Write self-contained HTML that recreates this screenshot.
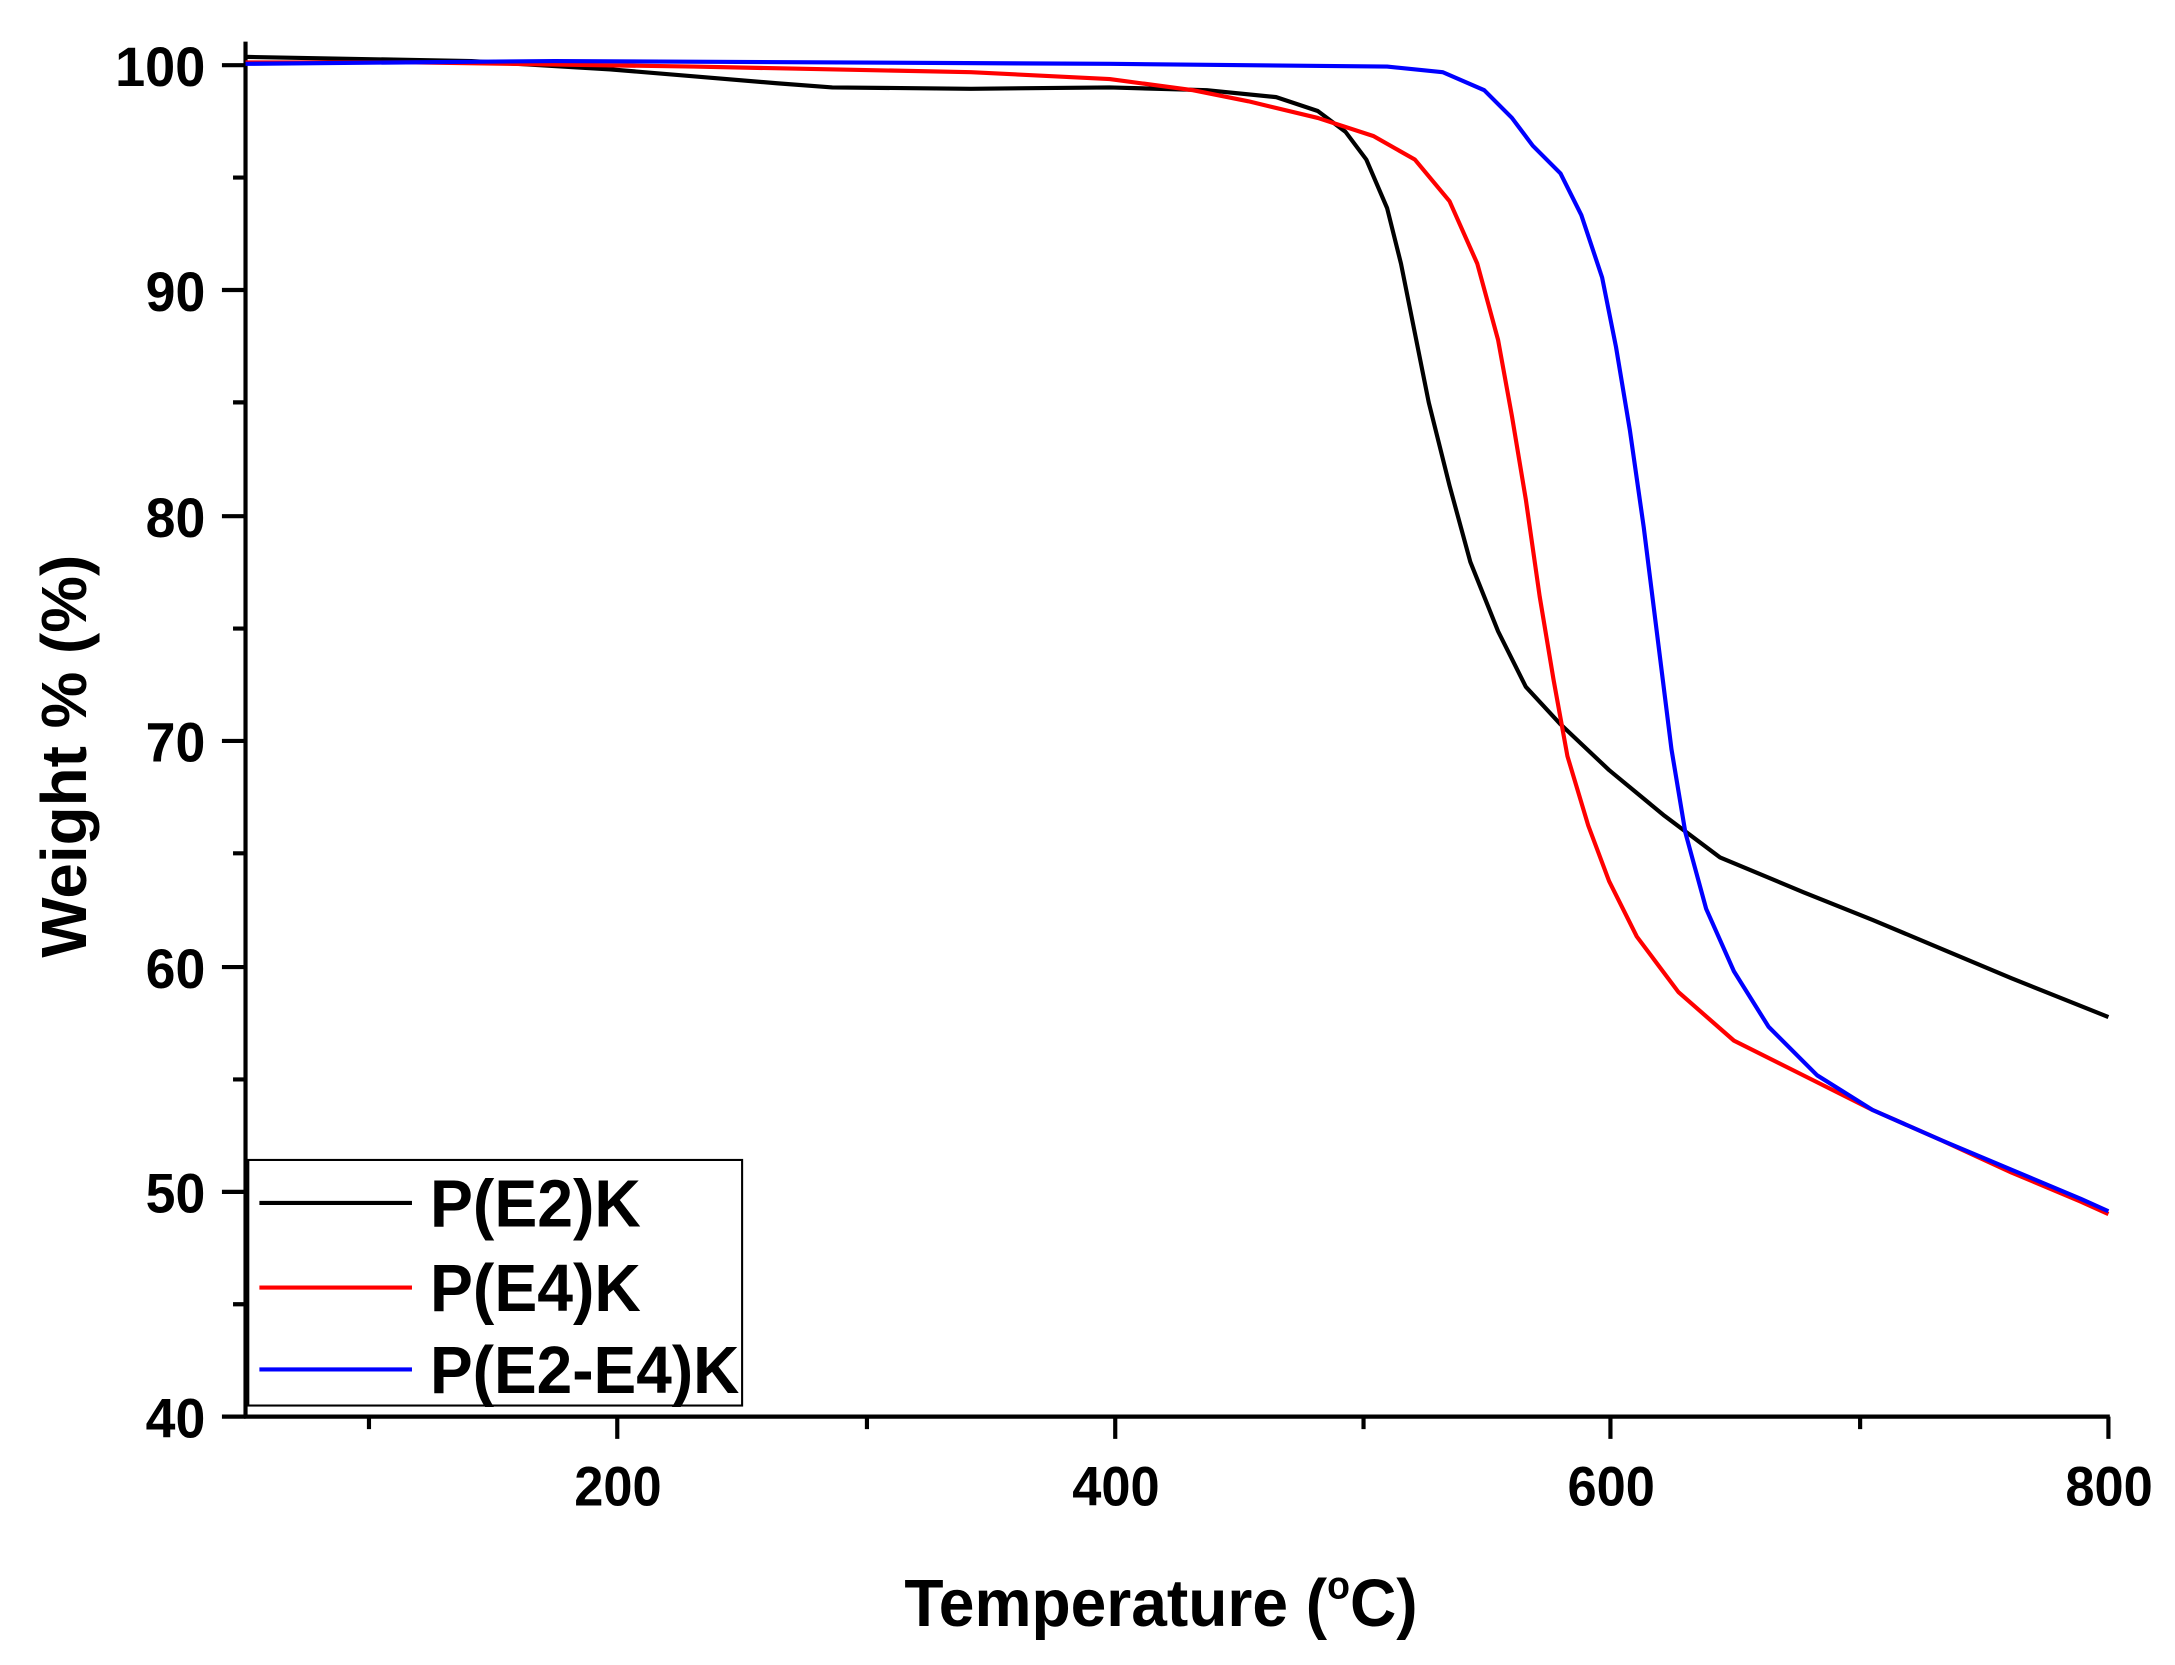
<!DOCTYPE html>
<html><head><meta charset="utf-8"><style>html,body{margin:0;padding:0;background:#fff;}svg{display:block}</style></head>
<body>
<svg width="2175" height="1665" viewBox="0 0 1568 1200" preserveAspectRatio="none" xmlns="http://www.w3.org/2000/svg" font-family="Liberation Sans, sans-serif" font-weight="bold">
<rect width="1568" height="1200" fill="#fff"/>
<g stroke="#000" stroke-width="3" fill="none">
<line x1="177" y1="30" x2="177" y2="1022"/>
<line x1="176" y1="1021" x2="1521" y2="1021"/>
<path d="M160 47H177M160 209H177M160 372H177M160 534H177M160 697H177M160 859H177M160 1021H177"/>
<path d="M168 128H177M168 290H177M168 453H177M168 615H177M168 778H177M168 940H177"/>
<path d="M445 1021V1037M804 1021V1037M1161 1021V1037M1520 1021V1037"/>
<path d="M266 1021V1030M625 1021V1030M983 1021V1030M1341 1021V1030"/>
</g>
<g font-size="40" lengthAdjust="spacingAndGlyphs">
<text x="83" y="62" textLength="65" lengthAdjust="spacingAndGlyphs">100</text>
<text x="105" y="224" textLength="43" lengthAdjust="spacingAndGlyphs">90</text>
<text x="105" y="387" textLength="43" lengthAdjust="spacingAndGlyphs">80</text>
<text x="105" y="549" textLength="43" lengthAdjust="spacingAndGlyphs">70</text>
<text x="105" y="712" textLength="43" lengthAdjust="spacingAndGlyphs">60</text>
<text x="105" y="874" textLength="43" lengthAdjust="spacingAndGlyphs">50</text>
<text x="105" y="1036" textLength="43" lengthAdjust="spacingAndGlyphs">40</text>
<text x="414" y="1085" textLength="63" lengthAdjust="spacingAndGlyphs">200</text>
<text x="773" y="1085" textLength="63" lengthAdjust="spacingAndGlyphs">400</text>
<text x="1130" y="1085" textLength="63" lengthAdjust="spacingAndGlyphs">600</text>
<text x="1489" y="1085" textLength="63" lengthAdjust="spacingAndGlyphs">800</text>
</g>
<text x="652" y="1172" font-size="48" textLength="370" lengthAdjust="spacingAndGlyphs">Temperature (<tspan font-size="28" dy="-20">o</tspan><tspan dy="20">C)</tspan></text>
<text transform="translate(62,545) rotate(-90)" font-size="46" text-anchor="middle">Weight % (%)</text>
<g fill="none" stroke-width="3" stroke-linejoin="round">
<polyline stroke="#000" points="177,41 340,44 440,50 500,55 560,60 600,63 700,64 800,63 870,65 920,70 950,80 970,95 985,115 1000,150 1010,190 1020,240 1030,290 1045,350 1060,405 1080,455 1100,495 1125,522 1160,555 1200,588 1240,618 1300,643 1350,663 1400,684 1450,705 1500,725 1520,733"/>
<polyline stroke="#f00" points="177,45 300,45 500,48 700,52 800,57 860,65 900,73 950,85 990,98 1020,115 1045,145 1065,190 1080,245 1090,300 1100,360 1110,430 1120,490 1130,545 1145,595 1160,635 1180,675 1210,715 1250,750 1300,775 1350,800 1400,822 1450,845 1500,866 1520,875"/>
<polyline stroke="#00f" points="177,46 400,44 800,46 1000,48 1040,52 1070,65 1090,85 1105,105 1125,125 1140,155 1155,200 1165,250 1175,310 1185,380 1195,460 1205,540 1215,600 1230,655 1250,700 1275,740 1310,775 1350,800 1400,822 1450,843 1500,864 1520,873"/>
</g>
<rect x="179" y="836" width="356" height="177" fill="#fff" stroke="#000" stroke-width="1.5"/>
<g stroke-width="3">
<line x1="187" y1="867" x2="297" y2="867" stroke="#000"/>
<line x1="187" y1="928" x2="297" y2="928" stroke="#f00"/>
<line x1="187" y1="987" x2="297" y2="987" stroke="#00f"/>
</g>
<g font-size="48">
<text x="310" y="884" textLength="152" lengthAdjust="spacingAndGlyphs">P(E2)K</text>
<text x="310" y="945" textLength="152" lengthAdjust="spacingAndGlyphs">P(E4)K</text>
<text x="310" y="1004" textLength="223" lengthAdjust="spacingAndGlyphs">P(E2-E4)K</text>
</g>
</svg>
</body></html>
